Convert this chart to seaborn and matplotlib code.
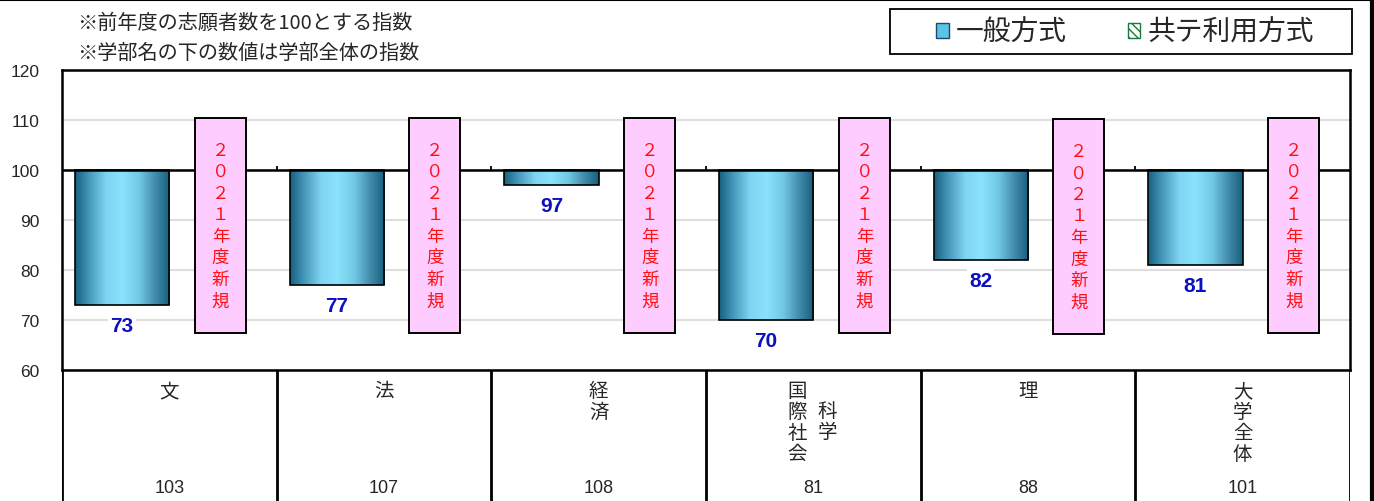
import numpy as np
import pandas as pd
import matplotlib
matplotlib.use("Agg")
import matplotlib.pyplot as plt
import seaborn as sns
from matplotlib.patches import Patch, Rectangle
from matplotlib.lines import Line2D
from matplotlib.colors import LinearSegmentedColormap

# ---------------- data ----------------
categories = ["文", "法", "経済", "国際社会科学", "理", "大学全体"]
general_index = [73, 77, 97, 70, 82, 81]          # 一般方式
faculty_index = [103, 107, 108, 81, 88, 101]      # 学部全体の指数
new_low = [67.5, 67.5, 67.5, 67.5, 67.3, 67.5]    # 共テ利用方式 (2021年度新規) box
new_high = [110.5, 110.5, 110.5, 110.5, 110.2, 110.5]
new_text = "２０２１年度新規"
yticks = [60, 70, 80, 90, 100, 110, 120]
notes = ["※前年度の志願者数を100とする指数", "※学部名の下の数値は学部全体の指数"]
legend_labels = ["一般方式", "共テ利用方式"]

# ---------------- style ----------------
sns.set_theme(style="white")
plt.rcParams["font.family"] = ["Noto Sans CJK JP", "DejaVu Sans"]
NUMFONT = ["Liberation Sans", "DejaVu Sans"]

W, H = 1374, 502
fig = plt.figure(figsize=(W / 100, H / 100), dpi=100)
fig.patch.set_facecolor("white")

L, R, T, B = 62, 1350, 71, 371
ax = fig.add_axes([L / W, 1 - B / H, (R - L) / W, (B - T) / H])
tab = fig.add_axes([L / W, 0, (R - L) / W, (H - B) / H])

idx = np.arange(len(categories))

# general bars (hang down from 100)
df_gen = pd.DataFrame({"pos": idx - 0.22, "delta": np.array(general_index) - 100})
sns.barplot(data=df_gen, x="pos", y="delta", native_scale=True, width=0.44,
            bottom=100, color="#5bc0e0", edgecolor="black", linewidth=1.2,
            saturation=1, errorbar=None, ax=ax, zorder=3)
gen_container = ax.containers[0]

# new-method boxes
df_new = pd.DataFrame({"pos": idx + 0.2375,
                       "h": np.array(new_high) - np.array(new_low)})
sns.barplot(data=df_new, x="pos", y="h", native_scale=True, width=0.2375,
            bottom=np.array(new_low), color="#ffccff", edgecolor="black",
            linewidth=1.4, saturation=1, errorbar=None, ax=ax, zorder=4)
new_container = ax.containers[1]

# gradient fill for general bars
cmap = LinearSegmentedColormap.from_list(
    "g", [(0, "#15607f"), (0.12, "#3d8db0"), (0.33, "#7fd5f2"),
          (0.5, "#8ae2fc"), (0.68, "#70c8e4"), (0.86, "#3f87a6"), (1, "#15607f")])
grad = np.linspace(0, 1, 256).reshape(1, -1)
for p, v in zip(gen_container.patches, general_index):
    bb = p.get_bbox()
    x0, x1 = min(bb.x0, bb.x1), max(bb.x0, bb.x1)
    y0, y1 = min(bb.y0, bb.y1), max(bb.y0, bb.y1)
    im = ax.imshow(grad, cmap=cmap, extent=[x0, x1, y0, y1],
                   aspect="auto", zorder=2.9, interpolation="bilinear")
    im.set_clip_path(p)
    p.set_facecolor("none")
    # value label under the bar
    ax.annotate(str(v), xy=((x0 + x1) / 2, y0), xytext=(0, -15),
                textcoords="offset points", ha="center", va="center",
                color="#0c10c0", fontweight="bold", fontsize=15, family=NUMFONT,
                bbox=dict(facecolor="white", edgecolor="none", pad=1.5), zorder=5)

# text in the pink boxes
for p in new_container.patches:
    bb = p.get_bbox()
    ax.text((bb.x0 + bb.x1) / 2, (bb.y0 + bb.y1) / 2, "\n".join(new_text),
            ha="center", va="center", color="#ff1010", fontsize=12.5,
            linespacing=1.25, zorder=6)

# axes cosmetics
ax.set_xlim(-0.5, len(categories) - 0.5)
ax.set_ylim(yticks[0], yticks[-1])
ax.set_yticks(yticks)
ax.set_yticklabels([str(v) for v in yticks], fontsize=12.5, family=NUMFONT)
ax.tick_params(axis="y", length=0, pad=16)
ax.set_xticks([])
ax.set_xlabel("")
ax.set_ylabel("")
ax.yaxis.grid(True, color="#dedede", linewidth=1.5)
ax.set_axisbelow(True)
ax.axhline(100, color="black", lw=1.8, zorder=3.5)
ax.vlines(idx[:-1] + 0.5, 100, 100.8, color="black", lw=1.3, zorder=3.5)
for s in ax.spines.values():
    s.set_visible(True)
    s.set_color("black")
    s.set_linewidth(1.8)

# table below
tab.set_xlim(-0.5, len(categories) - 0.5)
tab.set_ylim(0, 1)
tab.axis("off")
tab.vlines(np.arange(len(categories) + 1) - 0.5, 0, 1, color="black", lw=2)
top_y = (H - 381) / (H - B)
line_h = 20.5 / (H - B)
for i, (name, v) in enumerate(zip(categories, faculty_index)):
    cols = [name[k:k + 4] for k in range(0, len(name), 4)]
    if len(cols) == 1:
        tab.text(i, top_y, "\n".join(cols[0]), ha="center", va="top",
                 fontsize=14, linespacing=1.0)
    else:
        n0 = len(cols[0])
        tab.text(i - 0.075, top_y, "\n".join(cols[0]), ha="center", va="top",
                 fontsize=14, linespacing=1.0)
        mid = top_y - line_h * n0 / 2
        tab.text(i + 0.065, mid, "\n".join(cols[1]), ha="center", va="center",
                 fontsize=14, linespacing=1.0)
    tab.text(i, (H - 489) / (H - B), str(v), ha="center", va="center",
             fontsize=13, family=NUMFONT)

# notes
fig.text(77 / W, 1 - 23 / H, notes[0], ha="left", va="center", fontsize=14.5)
fig.text(77 / W, 1 - 53 / H, notes[1], ha="left", va="center", fontsize=14.5)

# legend
fig.add_artist(Rectangle((890 / W, 1 - 55 / H), 462 / W, 45 / H,
                         transform=fig.transFigure, facecolor="white",
                         edgecolor="black", lw=1.3))
handles = [Patch(facecolor="#5cc3e6", edgecolor="#1d4a66", lw=1),
           Patch(facecolor="white", edgecolor="#1a7a3a", hatch="\\\\\\\\", lw=1)]
fig.legend(handles, legend_labels, loc="center",
           bbox_to_anchor=(1125 / W, 1 - 33 / H), ncol=2, frameon=False,
           fontsize=20, handlelength=0.45, handleheight=0.45, handletextpad=0.25,
           columnspacing=2.2)

# frame edges of the screenshot
fig.add_artist(Line2D([0, 1], [1 - 1 / H, 1 - 1 / H], transform=fig.transFigure,
                      color="black", lw=1.5))
fig.add_artist(Line2D([1371.5 / W, 1371.5 / W], [0, 1], transform=fig.transFigure,
                      color="black", lw=3))

fig.savefig("out.png", dpi=100)
